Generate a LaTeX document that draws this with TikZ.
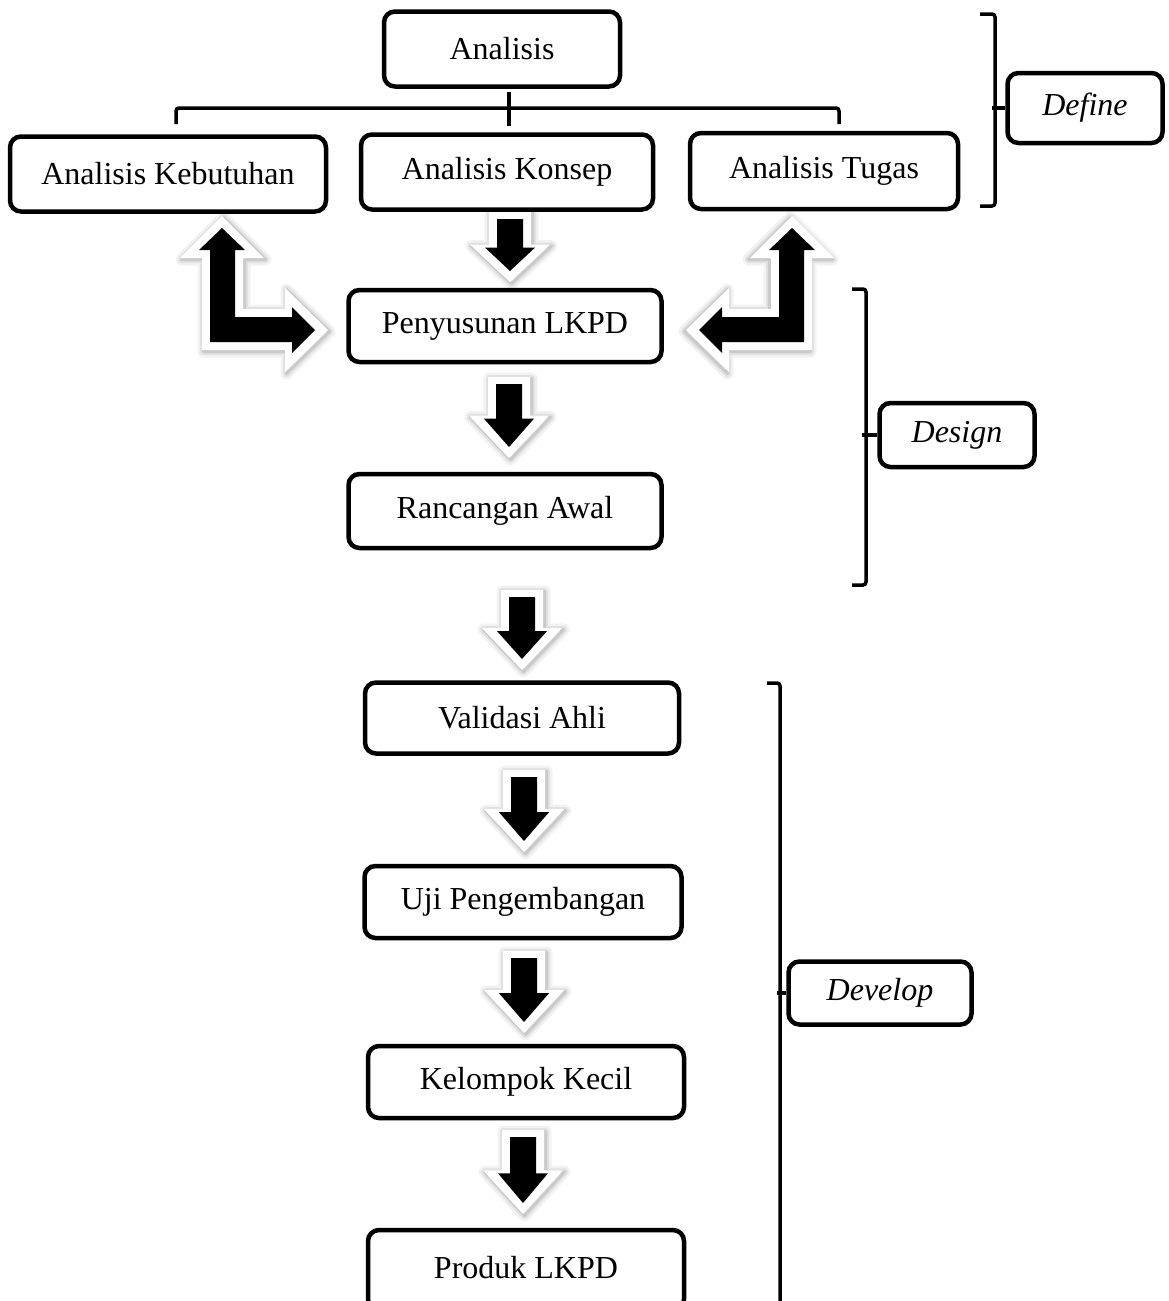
\documentclass[tikz,border=0pt]{standalone}
\usepackage{fontspec}
\setmainfont{Liberation Serif}
\usetikzlibrary{calc}
\pgfdeclarelayer{bg}
\pgfsetlayers{bg,main}
\tikzset{
  box/.style={draw=black, line width=4.5pt, rounded corners=11pt, fill=white,
    inner sep=0pt, align=center, font=\fontsize{32}{38}\selectfont},
  lbl/.style={box, font=\fontsize{32}{38}\selectfont\itshape},
  brk/.style={line width=3.5pt, rounded corners=3pt},
  shadowA/.style={draw=black, draw opacity=0.05, line width=12pt, line join=round},
  shadowB/.style={draw=black, draw opacity=0.07, line width=7pt, line join=round},
  shadowC/.style={draw=black, draw opacity=0.10, line width=3pt, line join=round},
}
% #1 outer (white) path, #2 inner (black) path
\newcommand\blockarrow[2]{%
  \begin{scope}[shift={(1.5,1.5)}]
    \path[shadowA] #1;
    \path[shadowB] #1;
    \path[shadowC] #1;
  \end{scope}
  \fill[white] #1;
  \fill[black] #2;
}
% #1 x centre, #2 top of black shaft, #3 tip of black head
\newcommand\dnarrow[3]{%
  \pgfmathsetmacro\hb{#2+0.55*(#3-#2)}%
  \pgfmathsetmacro\ot{#2-7}%
  \pgfmathsetmacro\ohb{\hb-3}%
  \pgfmathsetmacro\otip{#3+11}%
  \blockarrow
    {(#1-21,\ot) -- (#1+21,\ot) -- (#1+21,\ohb) -- (#1+40,\ohb) -- (#1,\otip) -- (#1-40,\ohb) -- (#1-21,\ohb) -- cycle}
    {(#1-13,#2) -- (#1+13,#2) -- (#1+13,\hb) -- (#1+25,\hb) -- (#1,#3) -- (#1-25,\hb) -- (#1-13,\hb) -- cycle}%
}
\newcommand\bentarrow{%
  \blockarrow
    {(222,216) -- (264,258) -- (243,258) -- (243,309) -- (285,309) -- (285,288) -- (328,330) -- (285,372) -- (285,350) -- (202,350) -- (202,258) -- (180,258) -- cycle}
    {(222,228) -- (245,250) -- (235,250) -- (235,317) -- (292,317) -- (292,307) -- (315,330) -- (292,353) -- (292,342) -- (210,342) -- (210,250) -- (199,250) -- cycle}%
}
\begin{document}
\begin{tikzpicture}[x=1pt, y=-1pt]
  \useasboundingbox (0,0) rectangle (1168,1301);
  \clip (0,0) rectangle (1168,1301);

  % boxes
  \node[box, minimum width=236pt, minimum height=75pt] (ana) at (502,49) {Analisis};
  \node[box, minimum width=316pt, minimum height=75pt] (keb) at (168,174) {Analisis Kebutuhan};
  \node[box, minimum width=292pt, minimum height=75pt] (kon) at (507,172) {Analisis Konsep};
  \node[box, minimum width=268pt, minimum height=76pt] (tug) at (824,171) {Analisis Tugas};
  \node[box, minimum width=313pt, minimum height=72pt] (pen) at (505,326) {Penyusunan LKPD};
  \node[box, minimum width=313pt, minimum height=74pt] (ran) at (505,511) {Rancangan Awal};
  \node[box, minimum width=314pt, minimum height=71pt] (val) at (522,718) {Validasi Ahli};
  \node[box, minimum width=317pt, minimum height=72pt] (uji) at (523,902) {Uji Pengembangan};
  \node[box, minimum width=316pt, minimum height=72pt] (kel) at (526,1082) {Kelompok Kecil};
  \node[box, minimum width=316pt, minimum height=80pt, text depth=0pt] (pro) at (526,1270) {\raisebox{6pt}{Produk LKPD}};

  \node[lbl, minimum width=155pt, minimum height=70pt] (def) at (1085,108) {Define};
  \node[lbl, minimum width=155pt, minimum height=64pt] (des) at (957,435) {Design};
  \node[lbl, minimum width=183pt, minimum height=63pt] (dev) at (880,993) {Develop};

  % tree connector below Analisis
  \coordinate (treeL) at (176,124);
  \coordinate (treeR) at (839,124);
  \coordinate (treeTop) at (509,92);
  \coordinate (treeBot) at (509,126);
  \draw[brk] (treeL) |- (treeR |- 0,108) -- (treeR);
  \draw[line width=3.5pt] (treeTop) -- (treeBot);

  % phase brackets
  \coordinate (dfT) at (980,14);
  \coordinate (dfB) at (980,206);
  \draw[brk] (dfT) -- (995,14) -- (995,206) -- (dfB);
  \draw[line width=3.5pt] (def.west) -- ++(-13,0);

  \coordinate (dsT) at (852,289);
  \coordinate (dsB) at (852,585);
  \draw[brk] (dsT) -- (866,289) -- (866,585) -- (dsB);
  \draw[line width=3.5pt] (des.west) -- ++(-15,0);

  \coordinate (dvT) at (767,683);
  \coordinate (dvB) at (780,1320);
  \draw[brk] (dvT) -- (780,683) -- (dvB);
  \draw[line width=3.5pt] (dev.west) -- ++(-9.5,0);

  % block arrows
  \begin{pgfonlayer}{bg}
    \dnarrow{510}{219}{271}
    \dnarrow{509}{384}{447}
    \dnarrow{522}{597}{659}
    \dnarrow{524}{777}{841}
    \dnarrow{524}{958}{1022}
    \dnarrow{523}{1137}{1203}
    \bentarrow
    \begin{scope}[shift={(1014,0)}, xscale=-1]
      \bentarrow
    \end{scope}
  \end{pgfonlayer}
\end{tikzpicture}
\end{document}
